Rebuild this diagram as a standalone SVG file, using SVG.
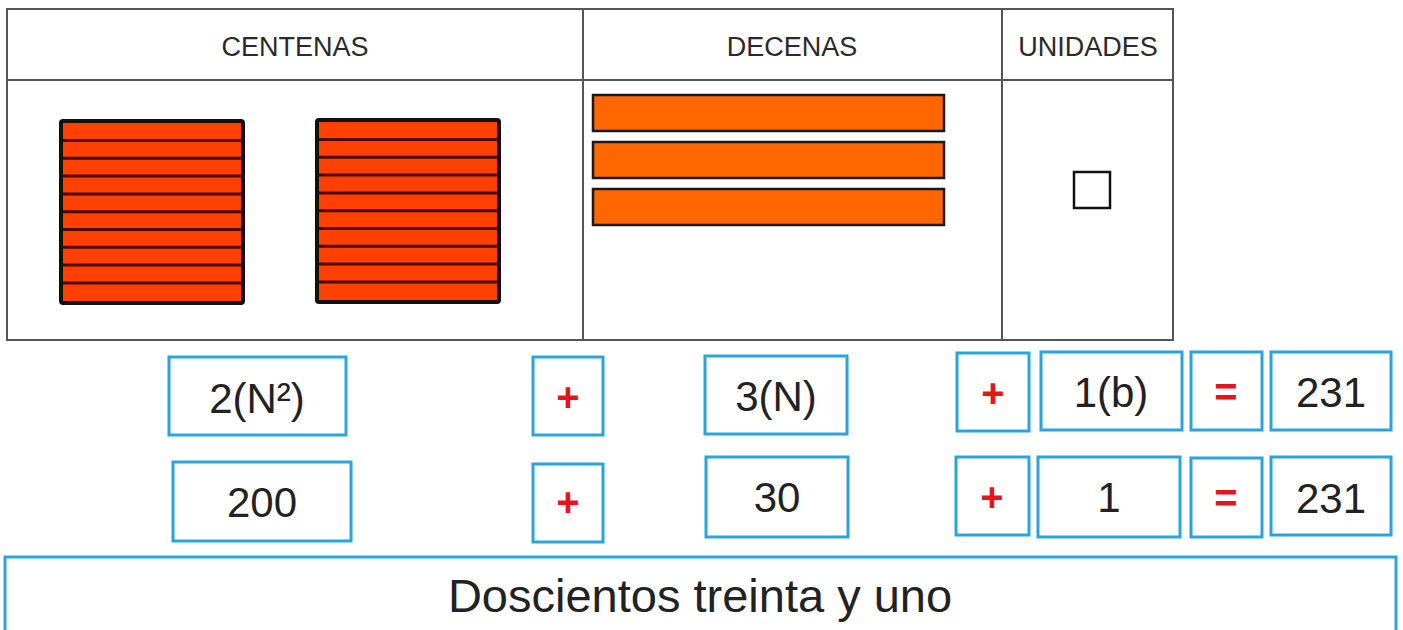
<svg xmlns="http://www.w3.org/2000/svg" width="1403" height="630" viewBox="0 0 1403 630">
<defs>
<style>
.grid{fill:none;stroke:#555;stroke-width:2}
.hdr{font-family:"Liberation Sans",Arial,sans-serif;font-size:27px;fill:#2a2a2a;text-anchor:middle}
.hund{fill:#ff4000;stroke:#111;stroke-width:4}
.strip{stroke:#4a0800;stroke-width:3}
.ten{fill:#ff6600;stroke:#1a1a1a;stroke-width:2.5}
.unit{fill:#fff;stroke:#111;stroke-width:2.5}
.box{fill:#fff;stroke:#2aa4dc;stroke-width:3}
.num{font-family:"Liberation Sans",Arial,sans-serif;font-size:42px;fill:#222;text-anchor:middle}
.op{font-family:"Liberation Sans",Arial,sans-serif;font-size:40px;font-weight:bold;fill:#e8141c;text-anchor:middle}
.word{font-family:"Liberation Sans",Arial,sans-serif;font-size:47px;fill:#222;text-anchor:middle}
</style>
<g id="hundred">
<rect class="hund" x="0" y="0" width="182" height="182" rx="2"/>
<line class="strip" x1="2" y1="19.5" x2="180" y2="19.5"/>
<line class="strip" x1="2" y1="37.3" x2="180" y2="37.3"/>
<line class="strip" x1="2" y1="55.1" x2="180" y2="55.1"/>
<line class="strip" x1="2" y1="72.9" x2="180" y2="72.9"/>
<line class="strip" x1="2" y1="90.7" x2="180" y2="90.7"/>
<line class="strip" x1="2" y1="108.5" x2="180" y2="108.5"/>
<line class="strip" x1="2" y1="126.3" x2="180" y2="126.3"/>
<line class="strip" x1="2" y1="144.1" x2="180" y2="144.1"/>
<line class="strip" x1="2" y1="161.9" x2="180" y2="161.9"/>
</g>
</defs>
<rect width="1403" height="630" fill="#fff"/>

<g id="table">
<rect class="grid" x="7" y="9" width="1166" height="331"/>
<line class="grid" x1="7" y1="80" x2="1173" y2="80"/>
<line class="grid" x1="583" y1="9" x2="583" y2="340"/>
<line class="grid" x1="1002" y1="9" x2="1002" y2="340"/>
<text class="hdr" x="295" y="56">CENTENAS</text>
<text class="hdr" x="792" y="56">DECENAS</text>
<text class="hdr" x="1088" y="56">UNIDADES</text>
</g>

<g id="centenas">
<use href="#hundred" x="61" y="121"/>
<use href="#hundred" x="317" y="120"/>
</g>

<g id="decenas">
<rect class="ten" x="593" y="95" width="351" height="36"/>
<rect class="ten" x="593" y="142" width="351" height="36"/>
<rect class="ten" x="593" y="189" width="351" height="36"/>
</g>

<g id="unidades">
<rect class="unit" x="1074" y="172" width="36" height="36"/>
</g>

<g id="row1">
<g id="r1-cent"><rect class="box" x="169" y="357" width="177" height="78"/><text class="num" x="257" y="413">2(N²)</text></g>
<g id="r1-plus1"><rect class="box" x="533" y="357" width="70" height="78"/><text class="op" x="568" y="411">+</text></g>
<g id="r1-dec"><rect class="box" x="705" y="356" width="142" height="78"/><text class="num" x="776" y="411">3(N)</text></g>
<g id="r1-plus2"><rect class="box" x="957" y="353" width="72" height="78"/><text class="op" x="993" y="407">+</text></g>
<g id="r1-uni"><rect class="box" x="1041" y="352" width="141" height="78"/><text class="num" x="1111" y="407">1(b)</text></g>
<g id="r1-eq"><rect class="box" x="1191" y="352" width="71" height="78"/><text class="op" x="1226" y="406">=</text></g>
<g id="r1-res"><rect class="box" x="1271" y="352" width="120" height="78"/><text class="num" x="1331" y="407">231</text></g>
</g>

<g id="row2">
<g id="r2-cent"><rect class="box" x="173" y="462" width="178" height="79"/><text class="num" x="262" y="517">200</text></g>
<g id="r2-plus1"><rect class="box" x="533" y="464" width="70" height="78"/><text class="op" x="568" y="516">+</text></g>
<g id="r2-dec"><rect class="box" x="706" y="457" width="142" height="80"/><text class="num" x="777" y="512">30</text></g>
<g id="r2-plus2"><rect class="box" x="956" y="457" width="73" height="78"/><text class="op" x="992" y="511">+</text></g>
<g id="r2-uni"><rect class="box" x="1038" y="457" width="142" height="80"/><text class="num" x="1109" y="512">1</text></g>
<g id="r2-eq"><rect class="box" x="1191" y="458" width="71" height="79"/><text class="op" x="1226" y="512">=</text></g>
<g id="r2-res"><rect class="box" x="1271" y="457" width="120" height="78"/><text class="num" x="1331" y="513">231</text></g>
</g>

<g id="words">
<rect class="box" x="5" y="557" width="1391" height="100"/>
<text class="word" x="700" y="612">Doscientos treinta y uno</text>
</g>
</svg>
